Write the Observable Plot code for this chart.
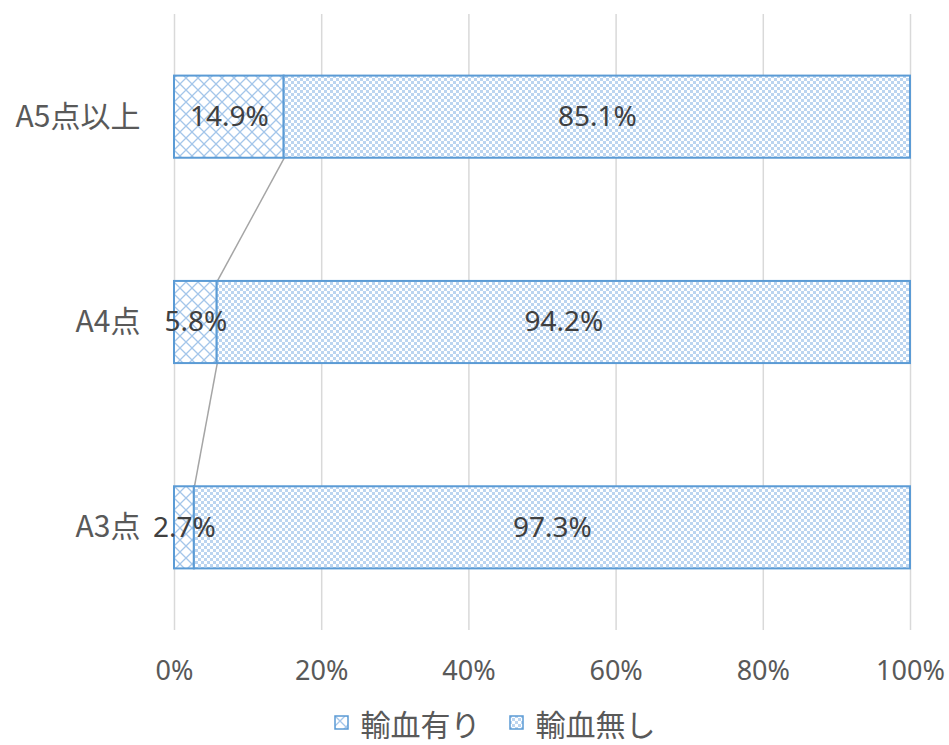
<!DOCTYPE html>
<html>
<head>
<meta charset="utf-8">
<script src="https://cdn.jsdelivr.net/npm/d3@7"></script>
<script src="https://cdn.jsdelivr.net/npm/@observablehq/plot@0.6"></script>
<style>
  body { margin: 0; background: #fff; font-family: "Noto Sans", "Noto Sans CJK JP", sans-serif; }
  #chart { width: 949px; }
  .legend { display: flex; justify-content: center; align-items: center; height: 45px; font-size: 30px; line-height: 36px; color: #595959; font-family: "Noto Sans CJK JP", sans-serif; padding-left: 40px; box-sizing: border-box; width: 949px; }
  .legend .item { display: flex; align-items: center; margin: 0 14px; }
  .legend svg { margin-right: 12px; }
</style>
</head>
<body>
<div id="chart"></div>
<script>
const categories = ["A5点以上", "A4点", "A3点"];
const withTransfusion = [14.9, 5.8, 2.7];
const withoutTransfusion = [85.1, 94.2, 97.3];
const xTicks = [0, 20, 40, 60, 80, 100];
const seriesNames = ["輸血有り", "輸血無し"];

const rows = categories.map((c, i) => ({
  cat: c, i,
  a: withTransfusion[i],
  b: withoutTransfusion[i]
}));
const half = 0.2;
const links = rows.slice(0, -1).map((r, k) => ({
  x1: r.a, y1: r.i + half,
  x2: rows[k + 1].a, y2: rows[k + 1].i - half
}));

const fontFam = '"Noto Sans", "Noto Sans CJK JP", sans-serif';

const svg = Plot.plot({
  width: 949,
  height: 700,
  marginLeft: 174,
  marginRight: 39,
  marginTop: 14,
  marginBottom: 70,
  style: { fontFamily: fontFam, background: "#fff" },
  x: { domain: [0, 100] },
  y: { domain: [2.5, -0.5] },
  marks: [
    Plot.gridX(xTicks, { stroke: "#d9d9d9", strokeOpacity: 1, strokeWidth: 1.5 }),
    Plot.axisX(xTicks, { tickSize: 0, tickPadding: 30, tickFormat: d => d + "%", fontSize: 27, fill: "#595959", label: null }),
    Plot.axisY([0, 1, 2], { tickSize: 0, tickPadding: 34, tickFormat: i => categories[i], fontSize: 30, fill: "#595959", label: null, fontFamily: '"Noto Sans CJK JP", sans-serif' }),
    Plot.link(links, { x1: "x1", y1: "y1", x2: "x2", y2: "y2", stroke: "#a5a5a5", strokeWidth: 1.5 }),
    Plot.rect(rows, { x1: 0, x2: "a", y1: d => d.i - half, y2: d => d.i + half, fill: "url(#patA)", stroke: "#5b9bd5", strokeWidth: 2 }),
    Plot.rect(rows, { x1: "a", x2: d => d.a + d.b, y1: d => d.i - half, y2: d => d.i + half, fill: "url(#patB)", stroke: "#5b9bd5", strokeWidth: 2 }),
    Plot.text(rows, { x: d => d.a / 2, y: "i", text: d => d.a.toFixed(1) + "%", fontSize: 28, fill: "#404040" }),
    Plot.text(rows, { x: d => d.a + d.b / 2, y: "i", text: d => d.b.toFixed(1) + "%", fontSize: 28, fill: "#404040" })
  ]
});

const defs = `
<pattern id="patA" width="12" height="12" patternUnits="userSpaceOnUse">
  <rect width="12" height="12" fill="#fff"/>
  <path d="M0,0L12,12M12,0L0,12" stroke="#a4c6ea" stroke-width="1.3"/>
</pattern>
<pattern id="patB" width="6" height="6" patternUnits="userSpaceOnUse">
  <rect width="6" height="6" fill="#fff"/>
  <rect width="3" height="3" fill="#bcd5f0"/>
  <rect x="3" y="3" width="3" height="3" fill="#bcd5f0"/>
</pattern>`;
d3.select(svg).insert("defs", ":first-child").html(defs);

document.getElementById("chart").appendChild(svg);

const legend = d3.select("#chart").append("div").attr("class", "legend");
const pats = ["patA", "patB"];
seriesNames.forEach((name, k) => {
  const item = legend.append("div").attr("class", "item");
  const s = item.append("svg").attr("width", 15).attr("height", 15);
  s.append("rect").attr("x", 1).attr("y", 1).attr("width", 13).attr("height", 13)
    .attr("fill", `url(#${pats[k]})`).attr("stroke", "#5b9bd5").attr("stroke-width", 1.5);
  item.append("span").text(name);
});
</script>
</body>
</html>
